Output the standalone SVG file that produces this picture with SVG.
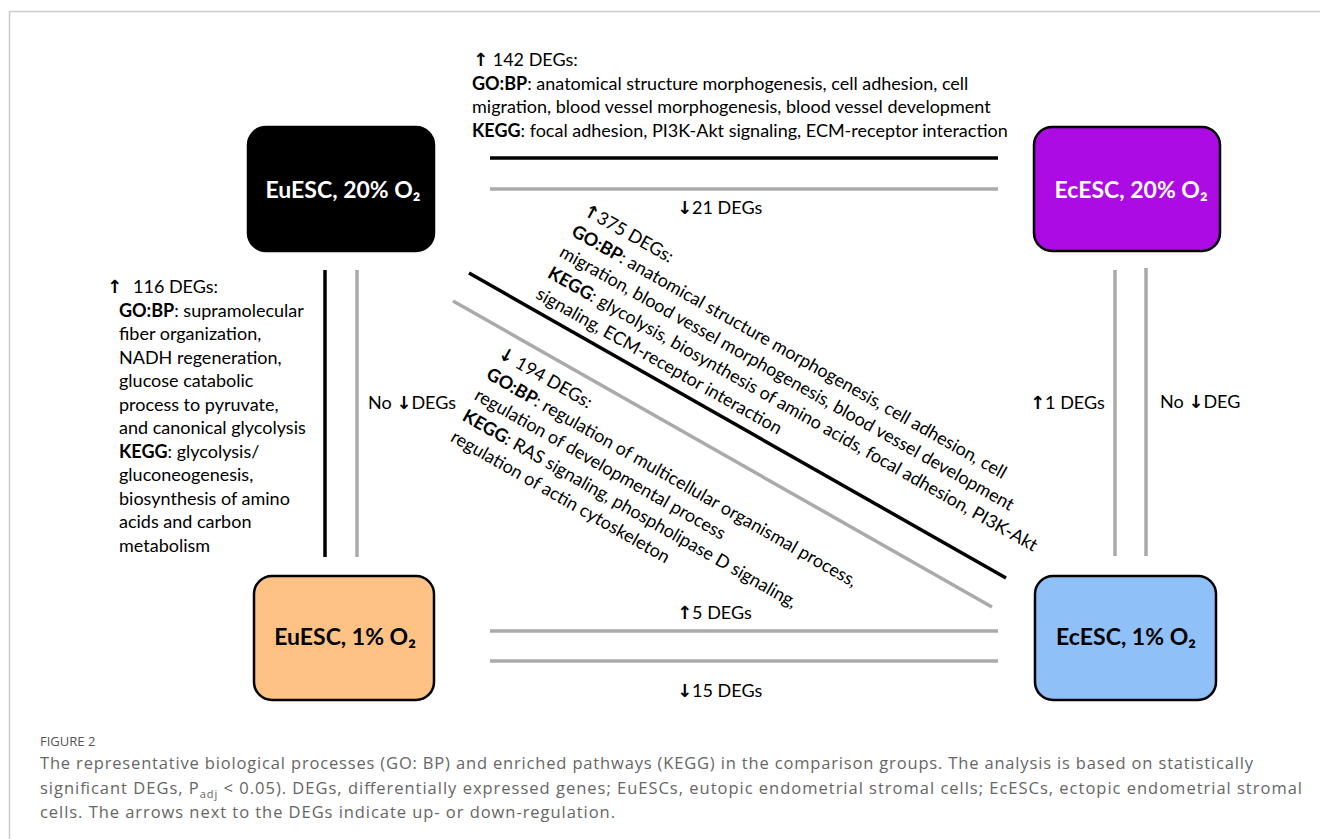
<svg xmlns="http://www.w3.org/2000/svg" width="1320" height="839" viewBox="0 0 1320 839">
<style>
.t{font-family:Lato,"Liberation Sans",sans-serif;font-size:18px;fill:#000}
.b{font-weight:bold}
.ar{font-family:"DejaVu Sans",sans-serif;font-size:18px;font-weight:bold}
.node{stroke:#000;stroke-width:2.5}
.lbl{font-family:Lato,"Liberation Sans",sans-serif;font-weight:bold;font-size:23px;text-anchor:middle;fill:#000}
.k{stroke:#000;stroke-width:3.5;fill:none}
.g{stroke:#aaa;stroke-width:3.5;fill:none}
.cap{font-family:"Open Sans","Liberation Sans",sans-serif;font-size:16.5px;fill:#666}
</style>
<rect x="0" y="0" width="1320" height="839" fill="#fff"/>
<path d="M9.5 839V11.5H1320" fill="none" stroke="#ccc" stroke-width="1.5"/>

<g id="connectors">
<line class="k" x1="490" y1="158" x2="998" y2="158"/>
<line class="g" x1="490" y1="189" x2="998" y2="189"/>
<line class="g" x1="490" y1="631" x2="998" y2="631"/>
<line class="g" x1="490" y1="661" x2="998" y2="661"/>
<line class="k" x1="325" y1="270" x2="325" y2="557"/>
<line class="g" x1="357" y1="270" x2="357" y2="557"/>
<line class="g" x1="1115" y1="270" x2="1115" y2="556"/>
<line class="g" x1="1146" y1="268" x2="1146" y2="556"/>
<line class="k" x1="469" y1="273" x2="1006" y2="578"/>
<line class="g" x1="453" y1="301" x2="992" y2="607"/>
</g>

<g id="node-euesc20">
<rect class="node" x="248" y="127" width="186" height="124" rx="18" fill="#000"/>
<text class="lbl" x="343" y="198" style="fill:#fff">EuESC, 20% O₂</text>
</g>
<g id="node-ecesc20">
<rect class="node" x="1034" y="127" width="186" height="124" rx="18" fill="#ad0be3"/>
<text class="lbl" x="1131" y="198" style="fill:#fff">EcESC, 20% O₂</text>
</g>
<g id="node-euesc1">
<rect class="node" x="254" y="576" width="180" height="124" rx="18" fill="#ffc285"/>
<text class="lbl" x="345" y="645">EuESC, 1% O₂</text>
</g>
<g id="node-ecesc1">
<rect class="node" x="1035" y="576" width="181" height="124" rx="18" fill="#90c0f8"/>
<text class="lbl" x="1126" y="645">EcESC, 1% O₂</text>
</g>

<g id="labels">
<text class="t" x="473" y="66"><tspan class="ar">↑</tspan> 142 DEGs:</text>
<text class="t" x="472" y="90"><tspan class="b">GO:BP</tspan>: anatomical structure morphogenesis, cell adhesion, cell</text>
<text class="t" x="472" y="113">migration, blood vessel morphogenesis, blood vessel development</text>
<text class="t" x="472" y="137"><tspan class="b">KEGG</tspan>: focal adhesion, PI3K-Akt signaling, ECM-receptor interaction</text>
<text class="t" x="677" y="214"><tspan class="ar">↓</tspan>21 DEGs</text>

<text class="t" x="107" y="293"><tspan class="ar">↑</tspan><tspan x="133">116 DEGs:</tspan></text>
<text class="t" x="119" y="317"><tspan class="b">GO:BP</tspan>: supramolecular</text>
<text class="t" x="119" y="340">fiber organization,</text>
<text class="t" x="119" y="364">NADH regeneration,</text>
<text class="t" x="119" y="387">glucose catabolic</text>
<text class="t" x="119" y="411">process to pyruvate,</text>
<text class="t" x="119" y="434">and canonical glycolysis</text>
<text class="t" x="119" y="458"><tspan class="b">KEGG</tspan>: glycolysis/</text>
<text class="t" x="119" y="481">gluconeogenesis,</text>
<text class="t" x="119" y="505">biosynthesis of amino</text>
<text class="t" x="119" y="528">acids and carbon</text>
<text class="t" x="119" y="552">metabolism</text>

<text class="t" x="368" y="409">No <tspan class="ar">↓</tspan>DEGs</text>
<text class="t" x="1030" y="409"><tspan class="ar">↑</tspan>1 DEGs</text>
<text class="t" x="1160" y="408">No <tspan class="ar">↓</tspan>DEG</text>
<text class="t" x="677" y="619"><tspan class="ar">↑</tspan>5 DEGs</text>
<text class="t" x="677" y="697"><tspan class="ar">↓</tspan>15 DEGs</text>

<text class="t" transform="translate(582,214) rotate(29.5)">
<tspan x="0" y="0"><tspan class="ar">↑</tspan>375 DEGs:</tspan>
<tspan x="0" y="24"><tspan class="b">GO:BP</tspan>: anatomical structure morphogenesis, cell adhesion, cell</tspan>
<tspan x="0" y="48">migration, blood vessel morphogenesis, blood vessel development</tspan>
<tspan x="0" y="72"><tspan class="b">KEGG</tspan>: glycolysis, biosynthesis of amino acids, focal adhesion, PI3K-Akt</tspan>
<tspan x="0" y="96">signaling, ECM-receptor interaction</tspan>
</text>
<text class="t" transform="translate(497,357) rotate(29.7)">
<tspan x="0" y="0"><tspan class="ar">↓</tspan> 194 DEGs:</tspan>
<tspan x="0" y="24"><tspan class="b">GO:BP</tspan>: regulation of multicellular organismal process,</tspan>
<tspan x="0" y="48">regulation of developmental process</tspan>
<tspan x="0" y="72"><tspan class="b">KEGG</tspan>: RAS signaling, phospholipase D signaling,</tspan>
<tspan x="0" y="96">regulation of actin cytoskeleton</tspan>
</text>
</g>

<g id="caption">
<text class="cap" x="40" y="746" style="font-size:13px;fill:#555">FIGURE 2</text>
<text class="cap" x="40" y="769" textLength="1213">The representative biological processes (GO: BP) and enriched pathways (KEGG) in the comparison groups. The analysis is based on statistically</text>
<text class="cap" x="40" y="794" textLength="1262">significant DEGs, P<tspan dy="4" style="font-size:11px">adj</tspan><tspan dy="-4"> &lt; 0.05). DEGs, differentially expressed genes; EuESCs, eutopic endometrial stromal cells; EcESCs, ectopic endometrial stromal</tspan></text>
<text class="cap" x="40" y="818" textLength="575">cells. The arrows next to the DEGs indicate up- or down-regulation.</text>
</g>
</svg>
